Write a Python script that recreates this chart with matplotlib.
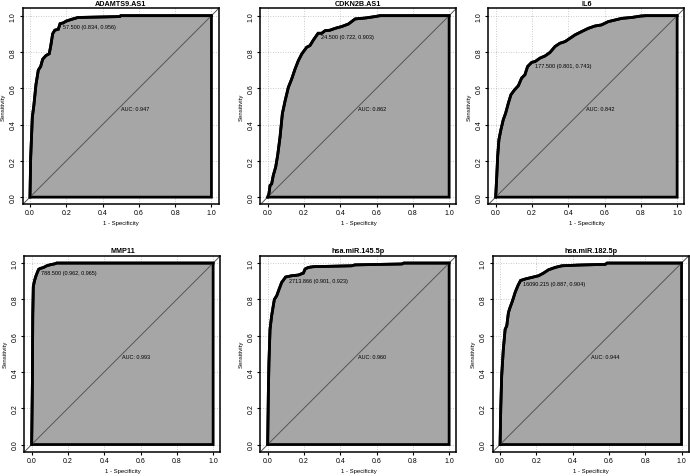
import matplotlib
matplotlib.use("Agg")
import matplotlib.pyplot as plt

plt.rcParams['font.family'] = ['Liberation Sans', 'DejaVu Sans']

# ---------------- data ----------------
titles = ["ADAMTS9.AS1", "CDKN2B.AS1", "IL6", "MMP11", "hsa.miR.145.5p", "hsa.miR.182.5p"]
auc_values = [0.947, 0.862, 0.842, 0.993, 0.960, 0.944]
thresholds = ["57.500", "24.500", "177.500", "788.500", "2713.866", "16090.215"]
best_spec = [0.834, 0.722, 0.801, 0.962, 0.901, 0.887]
best_sens = [0.956, 0.903, 0.743, 0.965, 0.923, 0.904]

fpr_adamts9 = [0, 0.004, 0.013, 0.022, 0.033, 0.046, 0.059, 0.07, 0.088, 0.106, 0.114, 0.125, 0.137,
               0.156, 0.166, 0.183, 0.2, 0.23, 0.265, 0.495, 0.5, 1.0]
tpr_adamts9 = [0, 0.22, 0.44, 0.51, 0.62, 0.70, 0.72, 0.76, 0.78, 0.79, 0.83, 0.90, 0.92,
               0.925, 0.956, 0.96, 0.97, 0.98, 0.99, 0.995, 1.0, 1.0]

fpr_cdkn2b = [0, 0.007, 0.013, 0.022, 0.031, 0.044, 0.055, 0.068, 0.081, 0.096, 0.114, 0.132, 0.151,
              0.169, 0.188, 0.215, 0.233, 0.252, 0.278, 0.298, 0.316, 0.344, 0.371, 0.408, 0.445,
              0.482, 0.537, 0.592, 0.62, 1.0]
tpr_cdkn2b = [0, 0.018, 0.064, 0.073, 0.12, 0.165, 0.23, 0.33, 0.46, 0.53, 0.605, 0.65, 0.706,
              0.752, 0.789, 0.826, 0.835, 0.866, 0.903, 0.903, 0.917, 0.92, 0.93, 0.94, 0.954,
              0.982, 0.987, 0.995, 1.0, 1.0]

fpr_il6 = [0, 0.006, 0.011, 0.018, 0.029, 0.042, 0.055, 0.07, 0.084, 0.103, 0.125, 0.143, 0.161,
           0.176, 0.199, 0.217, 0.244, 0.272, 0.299, 0.327, 0.354, 0.382, 0.409, 0.437, 0.473,
           0.51, 0.547, 0.583, 0.62, 0.657, 0.694, 0.749, 0.8, 0.83, 1.0]
tpr_il6 = [0, 0.115, 0.225, 0.317, 0.372, 0.427, 0.463, 0.518, 0.564, 0.59, 0.614, 0.656, 0.674,
           0.72, 0.743, 0.747, 0.766, 0.778, 0.797, 0.83, 0.848, 0.857, 0.875, 0.894, 0.912,
           0.93, 0.943, 0.949, 0.967, 0.976, 0.985, 0.99, 0.998, 1.0, 1.0]

fpr_mmp11 = [0, 0.004, 0.006, 0.009, 0.015, 0.024, 0.038, 0.046, 0.064, 0.083, 0.1, 0.128, 0.138, 1.0]
tpr_mmp11 = [0, 0.34, 0.71, 0.87, 0.90, 0.93, 0.965, 0.97, 0.975, 0.985, 0.99, 0.996, 1.0, 1.0]

fpr_mir145 = [0, 0.004, 0.007, 0.013, 0.022, 0.031, 0.037, 0.05, 0.063, 0.077, 0.099, 0.132, 0.169,
              0.197, 0.206, 0.224, 0.252, 0.463, 0.482, 0.74, 0.75, 1.0]
tpr_mir145 = [0, 0.30, 0.45, 0.635, 0.71, 0.765, 0.80, 0.82, 0.856, 0.893, 0.923, 0.93, 0.934,
              0.945, 0.967, 0.976, 0.98, 0.985, 0.99, 0.995, 1.0, 1.0]

fpr_mir182 = [0, 0.004, 0.009, 0.018, 0.028, 0.037, 0.046, 0.055, 0.068, 0.083, 0.098, 0.113, 0.138,
              0.175, 0.212, 0.24, 0.267, 0.304, 0.341, 0.433, 0.58, 0.59, 1.0]
tpr_mir182 = [0, 0.21, 0.38, 0.525, 0.635, 0.654, 0.727, 0.755, 0.79, 0.838, 0.875, 0.904, 0.912,
              0.921, 0.93, 0.945, 0.963, 0.976, 0.985, 0.989, 0.993, 1.0, 1.0]

fprs = [fpr_adamts9, fpr_cdkn2b, fpr_il6, fpr_mmp11, fpr_mir145, fpr_mir182]
tprs = [tpr_adamts9, tpr_cdkn2b, tpr_il6, tpr_mmp11, tpr_mir145, tpr_mir182]

tick_values = [0.0, 0.2, 0.4, 0.6, 0.8, 1.0]
tick_labels = ["0.0", "0.2", "0.4", "0.6", "0.8", "1.0"]

# ---------------- layout (pixels) ----------------
W, H = 690, 477
boxes = [(22.7, 9.4), (260.4, 9.4), (488.4, 9.4),
         (24.4, 256.8), (260.4, 256.8), (492.8, 256.8)]
side = 196

fig = plt.figure(figsize=(W / 100, H / 100), dpi=100)

fill_col = "#A6A6A6"
for i in range(6):
    lx, ty = boxes[i]
    ax = fig.add_axes([lx / W, 1 - (ty + side) / H, side / W, side / H])
    ax.set_xlim(-0.04, 1.04)
    ax.set_ylim(-0.04, 1.04)
    fpr = fprs[i]
    tpr = tprs[i]
    # grid
    for g in tick_values:
        ax.axhline(g, color="#B8B8B8", lw=0.6, ls=(0, (1, 2)), zorder=0)
        ax.axvline(g, color="#B8B8B8", lw=0.6, ls=(0, (1, 2)), zorder=0)
    # polygon
    px = list(fpr) + [1.0, 0.0]
    py = list(tpr) + [0.0, 0.0]
    ax.fill(px, py, facecolor=fill_col, edgecolor="black", lw=2.0, zorder=1,
            joinstyle="miter")
    # diagonal
    ax.plot([-0.04, 1.04], [-0.04, 1.04], color="#555555", lw=0.7, zorder=2)
    # curve
    ax.plot(fpr, tpr, color="black", lw=2.0, zorder=3, solid_joinstyle="miter")
    # threshold text
    x0 = 1 - best_spec[i]
    y0 = best_sens[i]
    ax.text(x0 + 0.016, y0 - 0.018,
            "%s (%.3f, %.3f)" % (thresholds[i], best_spec[i], best_sens[i]),
            fontsize=4.0, ha="left", va="center", zorder=4)
    ax.text(0.5, 0.487, "AUC: %.3f" % auc_values[i], fontsize=4.0,
            ha="left", va="center", zorder=4)
    ax.set_title(titles[i], fontsize=5.2, fontweight="bold", pad=2.5)
    ax.set_xlabel("1 - Specificity", fontsize=4.3, labelpad=3)
    ax.set_ylabel("Sensitivity", fontsize=4.3, labelpad=3)
    ax.set_xticks(tick_values)
    ax.set_xticklabels(tick_labels)
    ax.set_yticks(tick_values)
    ax.set_yticklabels(tick_labels, rotation=90, va="center")
    ax.tick_params(axis="both", labelsize=5.0, length=2.2, width=0.8, pad=1.2)
    ax.tick_params(axis="y", pad=2.0)
    for s in ax.spines.values():
        s.set_linewidth(1.1)

fig.savefig("out.png", dpi=100)
